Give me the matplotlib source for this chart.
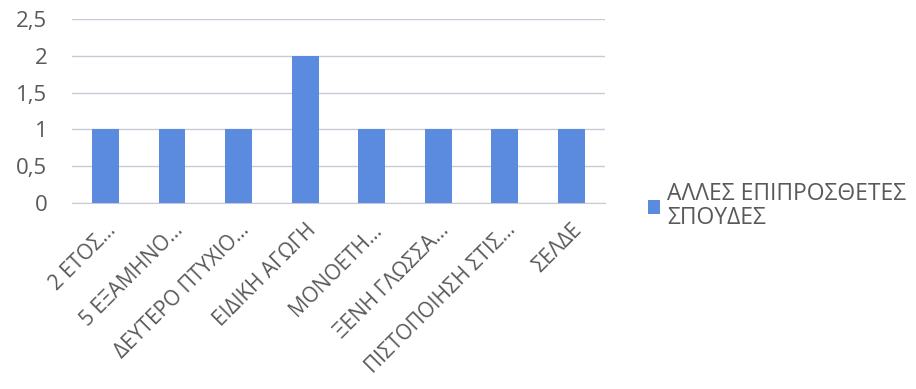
import matplotlib
matplotlib.use('Agg')
import matplotlib.pyplot as plt

categories = ['2 ΕΤΟΣ…', '5 ΕΞΑΜΗΝΟ…', 'ΔΕΥΤΕΡΟ ΠΤΥΧΙΟ…', 'ΕΙΔΙΚΗ ΑΓΩΓΗ',
              'ΜΟΝΟΕΤΗ…', 'ΞΕΝΗ ΓΛΩΣΣΑ…', 'ΠΙΣΤΟΠΟΙΗΣΗ ΣΤΙΣ…', 'ΣΕΛΔΕ']
values = [1, 1, 1, 2, 1, 1, 1, 1]
yticks = [0, 0.5, 1, 1.5, 2, 2.5]
ytick_labels = ['0', '0,5', '1', '1,5', '2', '2,5']
series_name = 'ΑΛΛΕΣ ΕΠΙΠΡΟΣΘΕΤΕΣ\nΣΠΟΥΔΕΣ'

plt.rcParams['font.family'] = ['Open Sans', 'DejaVu Sans']
text_color = '#595959'
bar_color = '#5A8BDF'
grid_color = '#C9CAD8'

fig = plt.figure(figsize=(9.16, 3.89), dpi=100)
ax = fig.add_axes([0.079, 0.478, 0.581, 0.473])

x = range(len(categories))
ax.bar(x, values, width=0.4, color=bar_color, label=series_name, zorder=3)

ax.set_xlim(-0.5, len(categories) - 0.5)
ax.set_ylim(0, 2.5)
ax.set_yticks(yticks)
ax.set_yticklabels(ytick_labels)
ax.set_xticks(list(x))
ax.set_xticklabels(categories, rotation=45, ha='right', va='top',
                   rotation_mode='anchor')
ax.tick_params(axis='y', length=0, labelsize=16, colors=text_color, pad=18)
ax.tick_params(axis='x', length=0, labelsize=15, colors=text_color, pad=12)

ax.grid(axis='y', color=grid_color, linewidth=1, zorder=0)
for side in ['left', 'right', 'top']:
    ax.spines[side].set_visible(False)
ax.spines['bottom'].set_color(grid_color)

leg = fig.legend(loc='upper left', bbox_to_anchor=(0.697, 0.555), frameon=False,
                 fontsize=16.5, handlelength=0.55, handleheight=0.55,
                 handletextpad=0.3, borderaxespad=0)
for t in leg.get_texts():
    t.set_color(text_color)
    t.set_linespacing(1.0)

fig.savefig('out.png', dpi=100)
